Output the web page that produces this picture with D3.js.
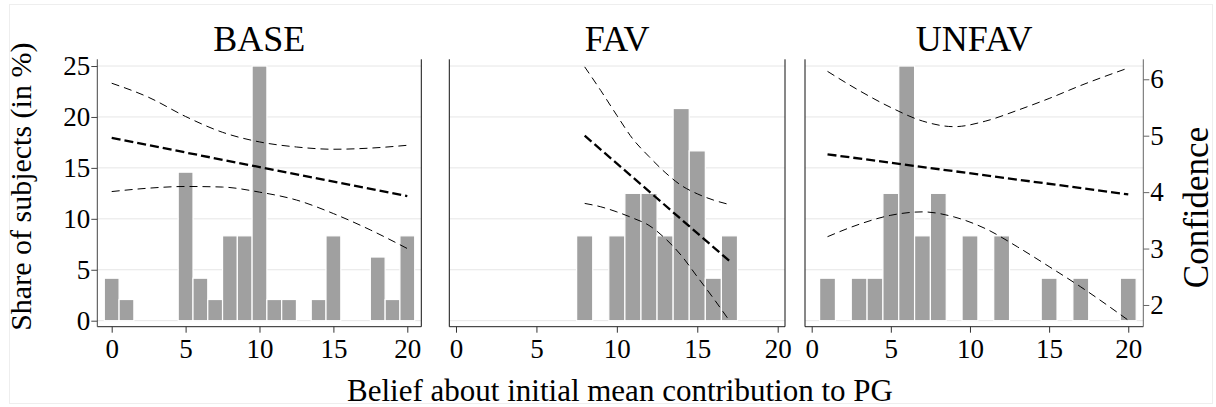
<!DOCTYPE html>
<html>
<head>
<meta charset="utf-8">
<style>
body { margin: 0; background: #fff; }
svg { display: block; font-family: "Liberation Serif", "Times New Roman", serif; }
.grid line { stroke: #e6e6e6; stroke-width: 1; }
.bar { fill: #a0a0a0; stroke: #fff; stroke-width: 1.2; }
.fit { fill: none; stroke: #000; stroke-width: 2.3; stroke-dasharray: 9,4; }
.ci { fill: none; stroke: #000; stroke-width: 1; stroke-dasharray: 8,5; }
</style>
</head>
<body>
<script src="https://d3js.org/d3.v7.min.js"></script>
<script>
// data
var groups = ["BASE", "FAV", "UNFAV"];
var xTicks = [0, 5, 10, 15, 20];
var shareTicks = [0, 5, 10, 15, 20, 25];
var confTicks = [2, 3, 4, 5, 6];

var beliefBase = [0, 1, 5, 6, 7, 8, 9, 10, 11, 12, 14, 15, 18, 19, 20];
var shareBase = [4.17, 2.08, 14.58, 4.17, 2.08, 8.33, 8.33, 25, 2.08, 2.08, 2.08, 8.33, 6.25, 2.08, 8.33];
var beliefFav = [8, 10, 11, 12, 13, 14, 15, 16, 17];
var shareFav = [8.33, 8.33, 12.5, 12.5, 8.33, 20.83, 16.67, 4.17, 8.33];
var beliefUnfav = [1, 3, 4, 5, 6, 7, 8, 10, 12, 15, 17, 20];
var shareUnfav = [4.17, 4.17, 4.17, 12.5, 25, 8.33, 12.5, 8.33, 8.33, 4.17, 4.17, 4.17];

// fitted confidence (right axis) with confidence band
var fitXBase = [0, 20], fitBase = [4.96, 3.93];
var fitXFav = [8, 17], fitFav = [5.00, 2.78];
var fitXUnfav = [1, 20], fitUnfav = [4.67, 3.96];

var ciXBase = [0, 2.5, 5, 7.5, 10, 12.5, 15, 17.5, 20];
var ciHiBase = [5.93, 5.68, 5.34, 5.06, 4.89, 4.80, 4.76, 4.78, 4.83];
var ciLoBase = [4.01, 4.07, 4.10, 4.09, 4.00, 3.86, 3.62, 3.33, 3.00];
var ciXFav = [8, 9, 10, 11, 12, 13, 14, 15, 16, 17];
var ciHiFav = [6.22, 5.80, 5.36, 4.94, 4.63, 4.35, 4.12, 3.97, 3.86, 3.78];
var ciLoFav = [3.80, 3.74, 3.65, 3.54, 3.41, 3.18, 2.88, 2.50, 2.12, 1.72];
var ciXUnfav = [1, 3, 5, 7, 9, 11, 13, 15, 17, 20];
var ciHiUnfav = [6.14, 5.80, 5.50, 5.26, 5.16, 5.26, 5.45, 5.66, 5.89, 6.20];
var ciLoUnfav = [3.21, 3.43, 3.59, 3.65, 3.56, 3.35, 3.03, 2.68, 2.32, 1.73];

var panels = [
  { title: groups[0], bx: beliefBase, by: shareBase, fx: fitXBase, fy: fitBase, cx: ciXBase, hi: ciHiBase, lo: ciLoBase,
    px: [97.3, 421.3], dom: [-0.974, 20.947] },
  { title: groups[1], bx: beliefFav, by: shareFav, fx: fitXFav, fy: fitFav, cx: ciXFav, hi: ciHiFav, lo: ciLoFav,
    px: [449.3, 785], dom: [-0.4165, 20.454] },
  { title: groups[2], bx: beliefUnfav, by: shareUnfav, fx: fitXUnfav, fy: fitUnfav, cx: ciXUnfav, hi: ciHiUnfav, lo: ciLoUnfav,
    px: [805, 1143.3], dom: [-0.423, 20.95] }
];

var W = 1216, H = 407;
var plotTop = 59.3, plotBottom = 326.7;

var svg = d3.select("body").append("svg")
    .attr("width", W)
    .attr("height", H);

// faint outer frame
svg.append("rect")
    .attr("x", 9.5).attr("y", 4.5)
    .attr("width", W - 13).attr("height", H - 8)
    .attr("fill", "none").attr("stroke", "#eeeeee");

var yShare = d3.scaleLinear().domain([-0.59, 25.66]).range([plotBottom, plotTop]);
var yConf = d3.scaleLinear().domain([1.615, 6.354]).range([plotBottom, plotTop]);

panels.forEach(function(p, k) {
    var x = d3.scaleLinear().domain(p.dom).range(p.px);
    var g = svg.append("g");

    g.append("g").attr("class", "grid")
      .selectAll("line").data(shareTicks).enter().append("line")
      .attr("x1", p.px[0]).attr("x2", p.px[1])
      .attr("y1", function(d) { return yShare(d); })
      .attr("y2", function(d) { return yShare(d); });

    g.selectAll("rect.bar").data(p.bx).enter().append("rect")
      .attr("class", "bar")
      .attr("x", function(d) { return x(d - 0.5); })
      .attr("width", function(d) { return x(d + 0.5) - x(d - 0.5); })
      .attr("y", function(d, i) { return yShare(p.by[i]); })
      .attr("height", function(d, i) { return yShare(0) - yShare(p.by[i]); });

    var curve = d3.line()
      .x(function(d) { return x(d[0]); })
      .y(function(d) { return yConf(d[1]); })
      .curve(d3.curveMonotoneX);

    g.append("path").attr("class", "ci").attr("d", curve(d3.zip(p.cx, p.hi)));
    g.append("path").attr("class", "ci").attr("d", curve(d3.zip(p.cx, p.lo)));
    g.append("path").attr("class", "fit").attr("d", curve(d3.zip(p.fx, p.fy)));

    // x axis
    var xa = g.append("g")
      .attr("transform", "translate(0," + plotBottom + ")")
      .call(d3.axisBottom(x).tickValues(xTicks).tickSize(6).tickPadding(6).tickSizeOuter(0));
    xa.select(".domain").attr("d", "M" + p.px[0] + ",0H" + p.px[1]).attr("stroke", "#222");
    xa.selectAll(".tick line").attr("stroke", "#333");
    xa.selectAll("text").attr("font-size", 27).attr("font-family", "Liberation Serif").attr("fill", "#000");

    // side lines of the plot region
    g.append("line").attr("x1", p.px[0]).attr("x2", p.px[0]).attr("y1", plotTop).attr("y2", plotBottom)
      .attr("stroke", k === 0 ? "#444" : "#111");
    g.append("line").attr("x1", p.px[1]).attr("x2", p.px[1]).attr("y1", plotTop).attr("y2", plotBottom)
      .attr("stroke", k === 2 ? "#666" : "#111");

    g.append("text")
      .attr("x", (p.px[0] + p.px[1]) / 2)
      .attr("y", 50.5)
      .attr("text-anchor", "middle")
      .attr("font-size", 36)
      .text(p.title);

    if (k === 0) {
      var ya = g.append("g")
        .attr("transform", "translate(" + p.px[0] + ",0)")
        .call(d3.axisLeft(yShare).tickValues(shareTicks).tickSize(6).tickPadding(1).tickSizeOuter(0));
      ya.select(".domain").remove();
      ya.selectAll(".tick line").attr("stroke", "#444");
      ya.selectAll("text").attr("font-size", 27).attr("font-family", "Liberation Serif").attr("fill", "#000");
    }
    if (k === 2) {
      var yr = g.append("g")
        .attr("transform", "translate(" + p.px[1] + ",0)")
        .call(d3.axisRight(yConf).tickValues(confTicks).tickFormat(d3.format("d"))
          .tickSize(6).tickPadding(1).tickSizeOuter(0));
      yr.select(".domain").remove();
      yr.selectAll(".tick line").attr("stroke", "#666");
      yr.selectAll("text").attr("font-size", 27).attr("font-family", "Liberation Serif").attr("fill", "#000");
    }
});

svg.append("text")
    .attr("transform", "translate(31,186.7) rotate(-90)")
    .attr("text-anchor", "middle")
    .attr("font-size", 30)
    .text("Share of subjects (in %)");

svg.append("text")
    .attr("transform", "translate(1207.5,207.5) rotate(-90)")
    .attr("text-anchor", "middle")
    .attr("font-size", 35)
    .text("Confidence");

svg.append("text")
    .attr("x", 620)
    .attr("y", 401)
    .attr("text-anchor", "middle")
    .attr("font-size", 31)
    .text("Belief about initial mean contribution to PG");
</script>
</body>
</html>
